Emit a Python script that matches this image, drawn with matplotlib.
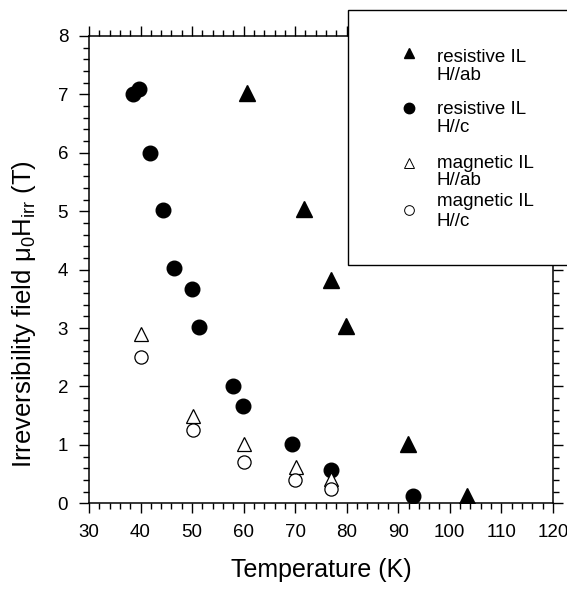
import matplotlib
matplotlib.use('Agg')
import matplotlib.pyplot as plt
from matplotlib.lines import Line2D
from matplotlib.patches import Rectangle
from matplotlib.ticker import MultipleLocator

plt.rcParams['font.family'] = ['Liberation Sans', 'DejaVu Sans']
plt.rcParams['mathtext.fontset'] = 'custom'
plt.rcParams['mathtext.rm'] = 'Liberation Sans'

# resistive IL, H//ab (filled triangles)
res_ab_T = [60.6, 71.7, 76.9, 79.8, 91.9, 103.3]
res_ab_H = [7.02, 5.04, 3.83, 3.03, 1.02, 0.12]

# resistive IL, H//c (filled circles)
res_c_T = [38.5, 39.7, 41.8, 44.4, 46.4, 50.0, 51.3, 57.9, 59.9, 69.4, 76.9, 92.9]
res_c_H = [7.0, 7.1, 6.0, 5.02, 4.02, 3.67, 3.02, 2.01, 1.66, 1.02, 0.57, 0.12]

# magnetic IL, H//ab (open triangles)
mag_ab_T = [40.1, 50.2, 60.1, 70.1, 76.9]
mag_ab_H = [2.9, 1.5, 1.01, 0.62, 0.41]

# magnetic IL, H//c (open circles)
mag_c_T = [40.1, 50.2, 60.1, 70.0, 76.9]
mag_c_H = [2.5, 1.26, 0.71, 0.4, 0.25]

labels = [('resistive IL', 'H//ab'), ('resistive IL', 'H//c'),
          ('magnetic IL', 'H//ab'), ('magnetic IL', 'H//c')]

fig = plt.figure(figsize=(5.67, 5.90), dpi=100)
ax = fig.add_axes([0.157, 0.147, 0.818, 0.792])

ax.plot(res_ab_T, res_ab_H, '^', color='black', ms=11, ls='none')
ax.plot(res_c_T, res_c_H, 'o', color='black', ms=10.5, ls='none')
ax.plot(mag_ab_T, mag_ab_H, '^', mfc='white', mec='black', mew=0.9, ms=9.5, ls='none')
ax.plot(mag_c_T, mag_c_H, 'o', mfc='white', mec='black', mew=0.9, ms=9.5, ls='none')

ax.set_xlim(30, 120)
ax.set_ylim(0, 8)
ax.xaxis.set_major_locator(MultipleLocator(10))
ax.xaxis.set_minor_locator(MultipleLocator(2))
ax.yaxis.set_major_locator(MultipleLocator(1))
ax.yaxis.set_minor_locator(MultipleLocator(0.2))
ax.tick_params(which='both', direction='out', top=True, right=True,
               width=1.0, labelsize=13.5)
ax.tick_params(which='major', length=7, pad=8)
ax.tick_params(which='minor', length=4)
for s in ax.spines.values():
    s.set_linewidth(1.1)

ax.set_xlabel('Temperature (K)', fontsize=18, labelpad=12)
ax.set_ylabel(r'Irreversibility field $\mathregular{\mu_0H_{irr}}$ (T)', fontsize=18.5)
ax.yaxis.set_label_coords(-0.110, 0.405)

# legend box covering the top right corner
W, H = 567.0, 590.0
fig.add_artist(Rectangle((348 / W, 1 - 265 / H), 0.5, (265 - 10) / H,
                         transform=fig.transFigure, facecolor='white',
                         edgecolor='black', lw=1.0, zorder=10, clip_on=False))

styles = [dict(marker='^', color='black', ms=7.5),
          dict(marker='o', color='black', ms=7.5),
          dict(marker='^', mfc='white', mec='black', mew=0.7, ms=7),
          dict(marker='o', mfc='white', mec='black', mew=0.7, ms=7)]
marker_y = [53, 108, 163, 210]
line1_y = [58, 110, 163, 202]
line2_y = [76, 128, 181, 221]
for (l1, l2), st, my, y1, y2 in zip(labels, styles, marker_y, line1_y, line2_y):
    fig.add_artist(Line2D([409 / W], [1 - my / H], ls='none',
                          transform=fig.transFigure, zorder=11, **st))
    fig.text(437 / W, 1 - y1 / H, l1, fontsize=13.5, va='center', ha='left', zorder=11)
    fig.text(437 / W, 1 - y2 / H, l2, fontsize=13.5, va='center', ha='left', zorder=11)

fig.savefig('out.png', dpi=100)
